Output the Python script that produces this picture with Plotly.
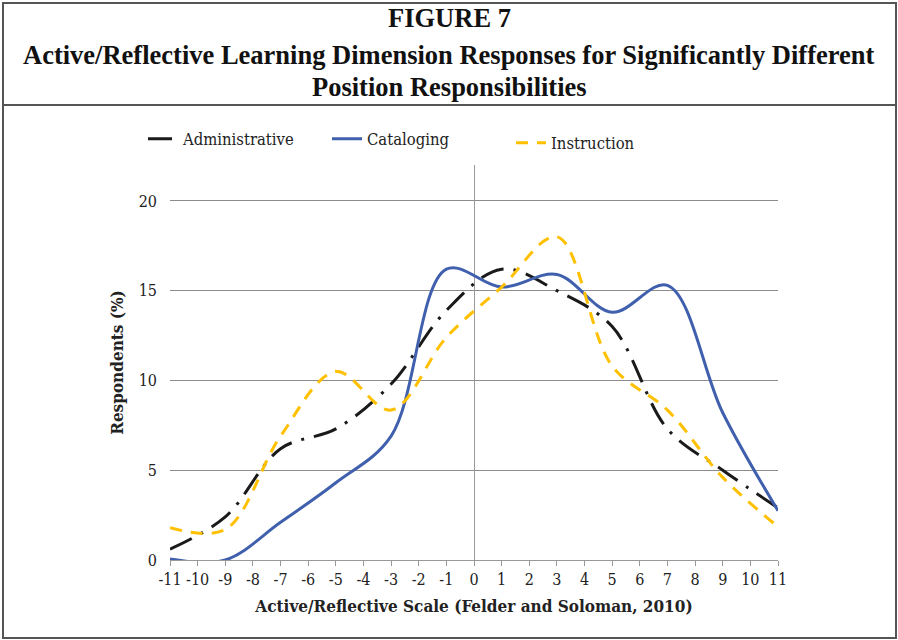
import plotly.graph_objects as go

# ---- data ----
x_scores = [-11, -9, -7, -5, -3, -1, 1, 3, 5, 7, 9, 11]
administrative = [0.6, 2.4, 6.2, 7.3, 9.8, 13.9, 16.2, 15.0, 13.0, 7.3, 5.0, 2.9]
cataloging = [0.05, 0.0, 2.1, 4.3, 6.9, 16.2, 15.2, 15.9, 13.8, 15.3, 8.2, 2.75]
instruction = [1.8, 1.7, 6.9, 10.5, 8.35, 12.4, 15.2, 18.0, 10.8, 8.35, 4.6, 1.85]
x_tick_vals = list(range(-11, 12))
y_tick_vals = [0, 5, 10, 15, 20]

title_lines = ["FIGURE 7",
               "Active/Reflective Learning Dimension Responses for Significantly Different",
               "Position Responsibilities"]

W, H = 898, 640
L, R, T, B = 170, 120, 165, 80


def px(x):
    return (x - L) / (W - L - R)


def py(y):
    return (H - B - y) / (H - T - B)


SERIF = "Liberation Serif"
BODY = "DejaVu Serif Condensed, DejaVu Serif, Liberation Serif"

fig = go.Figure()
fig.add_trace(go.Scatter(
    x=x_scores, y=administrative, name="Administrative", mode="lines",
    line=dict(shape="spline", smoothing=1, width=3, color="#1a1a1a",
              dash="24px,10px,3px,10px"),
    legend="legend"))
fig.add_trace(go.Scatter(
    x=x_scores, y=cataloging, name="Cataloging", mode="lines",
    line=dict(shape="spline", smoothing=1, width=3, color="#4060ae"),
    legend="legend2"))
fig.add_trace(go.Scatter(
    x=x_scores, y=instruction, name="Instruction", mode="lines",
    line=dict(shape="spline", smoothing=1, width=3, color="#ffc000",
              dash="12px,9px"),
    legend="legend3"))

leg_common = dict(orientation="h", xanchor="left", yanchor="middle",
                  bgcolor="rgba(0,0,0,0)", borderwidth=0,
                  font=dict(family=BODY, size=16.5, color="#222"))
fig.update_layout(
    legend=dict(x=px(143), y=py(139), **leg_common),
    legend2=dict(x=px(327), y=py(139), **leg_common),
    legend3=dict(x=px(511), y=py(143), **leg_common),
)

fig.update_xaxes(
    range=[-11, 11], tickvals=x_tick_vals, ticktext=[str(v) for v in x_tick_vals],
    ticks="outside", ticklen=5, tickcolor="#999", tickwidth=1,
    showline=True, linecolor="#999", linewidth=1,
    showgrid=False, zeroline=True, zerolinecolor="#999", zerolinewidth=1,
    tickfont=dict(family=BODY, size=16, color="#222"),
    title=dict(text="<b>Active/Reflective Scale (Felder and Soloman, 2010)</b>",
               font=dict(family=BODY, size=17, color="#222"), standoff=11),
)
fig.update_yaxes(
    range=[0, 22], tickvals=y_tick_vals,
    showgrid=True, gridcolor="#8c8c8c", gridwidth=1,
    zeroline=False, showline=False, ticks="", ticklabelstandoff=12,
    tickfont=dict(family=BODY, size=16, color="#222"),
    title=dict(text="<b>Respondents (%)</b>",
               font=dict(family=BODY, size=17, color="#222"), standoff=10),
)

annotations = []
for text, yc in zip(title_lines, [18, 55, 87]):
    annotations.append(dict(
        text="<b>" + text + "</b>", x=px(449), y=py(yc), xref="paper", yref="paper",
        xanchor="center", yanchor="middle", showarrow=False,
        font=dict(family=SERIF, size=26.5, color="#111")))

border = dict(color="#555", width=2)
shapes = [
    dict(type="rect", xref="paper", yref="paper", x0=px(3), x1=px(896),
         y0=py(638), y1=py(3), line=border, layer="above"),
    dict(type="line", xref="paper", yref="paper", x0=px(3), x1=px(896),
         y0=py(105), y1=py(105), line=border, layer="above"),
]

fig.update_layout(
    width=W, height=H, autosize=False,
    margin=dict(l=L, r=R, t=T, b=B, pad=0),
    paper_bgcolor="white", plot_bgcolor="white",
    annotations=annotations, shapes=shapes,
    showlegend=True,
)

fig.write_html("out.html", config={"displayModeBar": False},
               post_script="document.body.style.margin='0';")
